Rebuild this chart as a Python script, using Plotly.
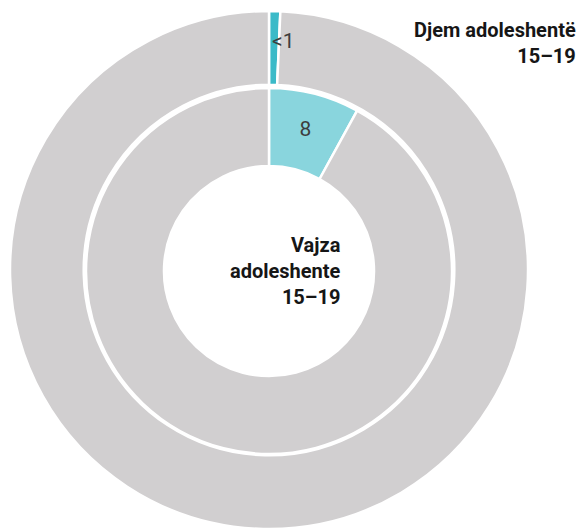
import math
import plotly.graph_objects as go

# Data
categories = ["Të martuar ose në bashkëjetesë", "Të tjerë"]
boys_values = [0.7, 99.3]        # Djem adoleshentë 15–19
boys_label = "<1"
girls_values = [8, 92]           # Vajza adoleshente 15–19
girls_text = ["8", ""]
boys_title = "Djem adoleshentë<br>15–19"
girls_title = "Vajza<br>adoleshente<br>15–19"

outer_colors = ["#3bbac8", "#d1cfd0"]
inner_colors = ["#89d5dd", "#d1cfd0"]

W, H = 579, 529
cx, cy = 269, 271          # pie centre in px (from top-left)
r_out, r_in = 260, 183

def dom(r):
    return dict(x=[(cx - r) / W, (cx + r) / W],
                y=[max(0, (H - cy - r)) / H, (H - cy + r) / H])

num_font = dict(family="Roboto", size=21, color="#3d3d3d")
lab_font = dict(family="Roboto", size=20, color="#161616", weight="bold")

fig = go.Figure()
fig.add_trace(go.Pie(
    labels=categories, values=boys_values,
    textinfo="none",
    sort=False, direction="clockwise", rotation=0,
    hole=186 / r_out, domain=dom(r_out),
    marker=dict(colors=outer_colors, line=dict(color="white", width=2.5)),
    showlegend=False, hoverinfo="label+value",
))
fig.add_trace(go.Pie(
    labels=categories, values=girls_values, text=girls_text,
    textinfo="text", textposition="inside", insidetextorientation="horizontal",
    sort=False, direction="clockwise", rotation=0,
    hole=105 / r_in, domain=dom(r_in),
    marker=dict(colors=inner_colors, line=dict(color="white", width=2.5)),
    textfont=num_font,
    showlegend=False, hoverinfo="label+value",
))

# "<1" label for the tiny outer slice, placed near the slice's mid-angle
ang = math.radians(360 * boys_values[0] / sum(boys_values) / 2)
r_lab = 230
lx = cx + r_lab * math.sin(ang) + 9
ly = cy - r_lab * math.cos(ang)
fig.add_annotation(
    text=boys_label, xref="paper", yref="paper",
    x=lx / W, y=1 - ly / H, xanchor="center", yanchor="middle",
    showarrow=False, font=num_font,
)

fig.add_annotation(
    text=boys_title, xref="paper", yref="paper",
    x=578 / W, y=1 - 43 / H, xanchor="right", yanchor="middle",
    align="right", showarrow=False, font=lab_font,
)
fig.add_annotation(
    text=girls_title, xref="paper", yref="paper",
    x=343 / W, y=1 - 271 / H, xanchor="right", yanchor="middle", align="right",
    showarrow=False, font=lab_font,
)

fig.update_layout(
    width=W, height=H, margin=dict(l=0, r=0, t=0, b=0),
    paper_bgcolor="white", plot_bgcolor="white",
)
fig.write_html("out.html", config={"displayModeBar": False},
               post_script="document.body.style.margin='0';")
